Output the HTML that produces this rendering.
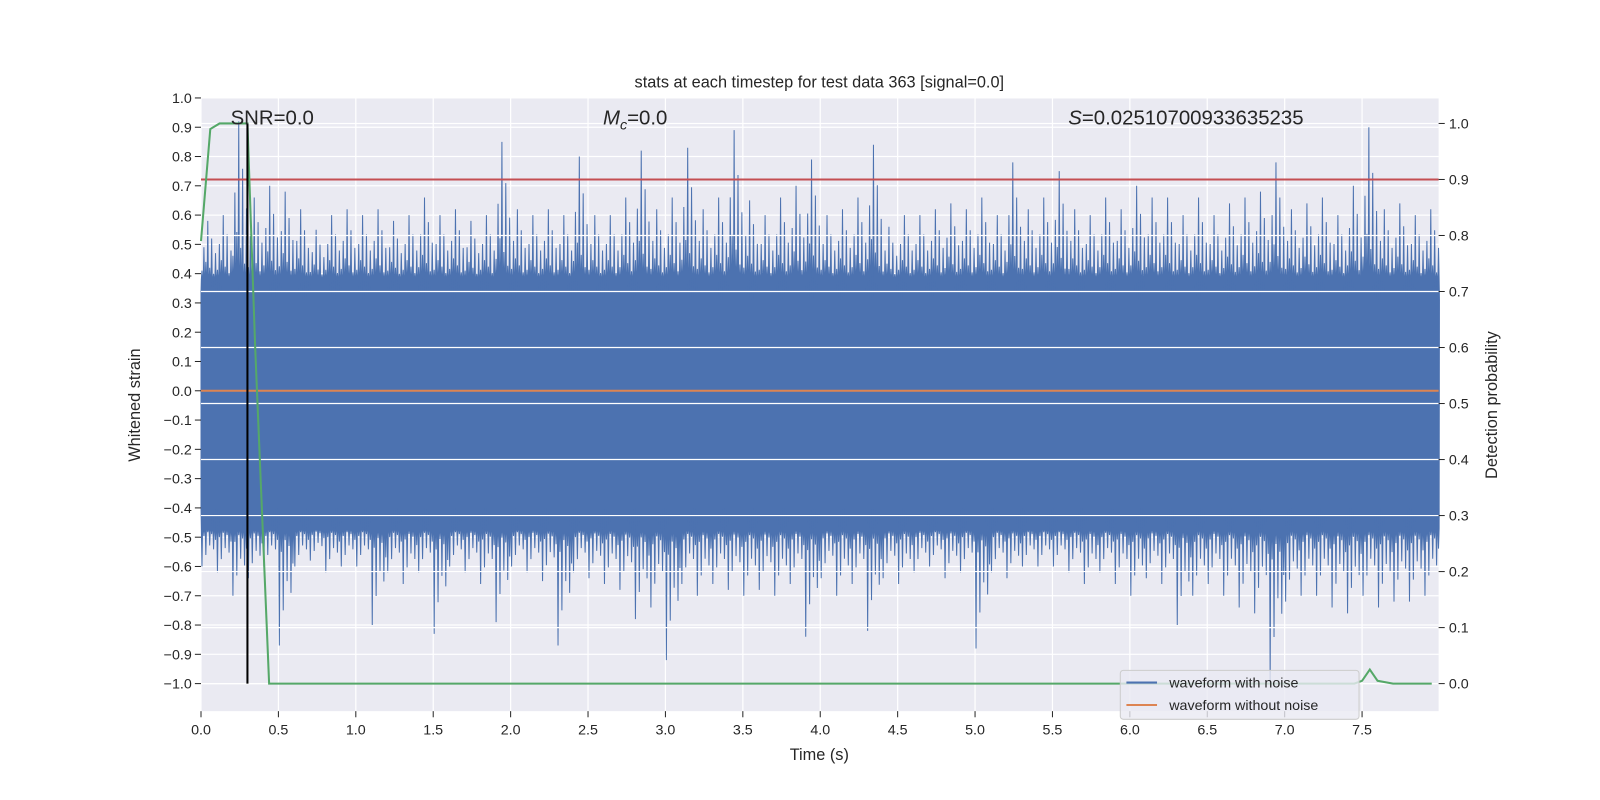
<!DOCTYPE html>
<html><head><meta charset="utf-8"><style>
html,body{margin:0;padding:0;background:#fff;overflow:hidden;width:1600px;height:800px;}
svg{display:block;}
svg text{font-family:"Liberation Sans","DejaVu Sans",sans-serif;fill:#262626;}
</style></head><body>
<svg id="chart" width="1600" height="800" xmlns="http://www.w3.org/2000/svg">
<g transform="scale(1.0203)">
<rect x="197" y="96" width="1213" height="601" fill="#eaeaf2"/>
<g id="lgrid"></g><g id="wave"></g><g id="rgrid"></g><g id="lines"></g><g id="axes"></g>
<text x="803" y="86" font-size="16" text-anchor="middle">stats at each timestep for test data 363 [signal=0.0]</text>
<text x="226" y="122" font-size="20">SNR=0.0</text>
<text x="591" y="122" font-size="20"><tspan font-style="italic">M</tspan><tspan font-size="14" dy="5" font-style="italic">c</tspan><tspan dy="-5">=0.0</tspan></text>
<text x="1047" y="122" font-size="20"><tspan font-style="italic">S</tspan>=0.02510700933635235</text>
<text x="803" y="745" font-size="16" text-anchor="middle">Time (s)</text>
<text transform="translate(137,397) rotate(-90)" font-size="16" text-anchor="middle">Whitened strain</text>
<text transform="translate(1467,397) rotate(-90)" font-size="16" text-anchor="middle">Detection probability</text>
<g>
<rect x="1098" y="657" width="234" height="48" rx="3" fill="#eaeaf2" fill-opacity="0.8" stroke="#ccc"/>
<line x1="1104" y1="669" x2="1134" y2="669" stroke="#4c72b0" stroke-width="2"/>
<text x="1146" y="674" font-size="14">waveform with noise</text>
<line x1="1104" y1="691" x2="1134" y2="691" stroke="#dd8452" stroke-width="2"/>
<text x="1146" y="696" font-size="14">waveform without noise</text>
</g>
</g>
</svg>
<script>
// 0.1 s bins: max and min of noisy strain
const binTops=[0.58,0.6,0.92,0.66,0.7,0.68,0.62,0.55,0.6,0.62,0.6,0.62,0.58,0.6,0.66,0.6,0.62,0.58,0.6,0.85,0.62,0.6,0.62,0.6,0.8,0.6,0.6,0.66,0.82,0.62,0.66,0.83,0.62,0.66,0.89,0.65,0.6,0.66,0.7,0.79,0.6,0.62,0.66,0.84,0.56,0.6,0.6,0.62,0.64,0.62,0.66,0.6,0.78,0.62,0.66,0.75,0.62,0.6,0.66,0.62,0.7,0.66,0.66,0.6,0.66,0.6,0.64,0.66,0.68,0.78,0.62,0.64,0.66,0.6,0.7,0.9,0.62,0.64,0.6,0.62];
const binBots=[-0.6,-0.62,-0.7,-0.64,-0.6,-0.87,-0.6,-0.58,-0.62,-0.6,-0.6,-0.8,-0.62,-0.66,-0.62,-0.83,-0.6,-0.62,-0.66,-0.79,-0.6,-0.62,-0.65,-0.87,-0.62,-0.64,-0.66,-0.68,-0.78,-0.74,-0.92,-0.66,-0.7,-0.66,-0.68,-0.7,-0.68,-0.7,-0.66,-0.84,-0.64,-0.7,-0.66,-0.82,-0.64,-0.66,-0.62,-0.6,-0.64,-0.62,-0.88,-0.62,-0.64,-0.6,-0.6,-0.6,-0.62,-0.66,-0.62,-0.66,-0.7,-0.64,-0.66,-0.8,-0.7,-0.66,-0.7,-0.74,-0.76,-1.0,-0.72,-0.7,-0.7,-0.74,-0.76,-0.7,-0.74,-0.72,-0.72,-0.7];
const baseTop=0.33, baseBot=-0.42;
const probT=[0,0.06,0.12,0.3,0.35,0.44,7.45,7.5,7.55,7.6,7.7,7.95];
const probV=[0.79,0.99,1.0,1.0,0.6,0.0,0.0,0.005,0.025,0.005,0.0,0.0];
const threshold=0.9, eventT=0.3;
const leftTicks=[-1.0,-0.9,-0.8,-0.7,-0.6,-0.5,-0.4,-0.3,-0.2,-0.1,0.0,0.1,0.2,0.3,0.4,0.5,0.6,0.7,0.8,0.9,1.0];
const rightTicks=[0.0,0.1,0.2,0.3,0.4,0.5,0.6,0.7,0.8,0.9,1.0];
const xTicks=[0,0.5,1,1.5,2,2.5,3,3.5,4,4.5,5,5.5,6,6.5,7,7.5];
const X=t=>197+t*151.73, YL=v=>383-v*287, YR=v=>670-v*549;
const NS='http://www.w3.org/2000/svg';
function mk(p,tag,a){const e=document.createElementNS(NS,tag);for(const k in a)e.setAttribute(k,a[k]);p.appendChild(e);return e;}
const lg=document.getElementById('lgrid'),rg=document.getElementById('rgrid'),ax=document.getElementById('axes'),wv=document.getElementById('wave'),ln=document.getElementById('lines');
leftTicks.forEach(v=>{const y=YL(v);
 const g=mk(lg,'line',{x1:197,x2:1410,y1:y,y2:y,stroke:'#fff','stroke-width':1.2});
 
 
 const t=mk(ax,'text',{x:188,y:y+5,'font-size':14,'text-anchor':'end'});t.textContent=(v<0?'\u2212':'')+Math.abs(v).toFixed(1);
 
 
 mk(ax,'line',{x1:191,x2:197,y1:y,y2:y,stroke:'#262626'});});
xTicks.forEach(v=>{const x=X(v);
 const g=mk(lg,'line',{x1:x,x2:x,y1:96,y2:697,stroke:'#fff','stroke-width':1.2});
 
 
 const t=mk(ax,'text',{x:x,y:720,'font-size':14,'text-anchor':'middle'});t.textContent=v.toFixed(1);
 
 
 mk(ax,'line',{x1:x,x2:x,y1:697,y2:703,stroke:'#262626'});});
rightTicks.forEach(v=>{const y=YR(v);
 const g=mk(rg,'line',{x1:197,x2:1410,y1:y,y2:y,stroke:'#fff','stroke-width':1.2});
 
 
 const t=mk(ax,'text',{x:1420,y:y+5,'font-size':14});t.textContent=v.toFixed(1);
 
 
 mk(ax,'line',{x1:1410,x2:1416,y1:y,y2:y,stroke:'#262626'});});
// noise band: several narrow spikes per bin scaled from the bin extreme
const fT=[0.15,0.55,0.3,1,0.2,0.7,0.1,0.45];
let d='M'+X(0)+','+YL(baseTop);
binTops.forEach((v,i)=>{const t0=i*0.1;fT.forEach((f,k)=>{const tc=t0+(k+0.5)*0.0125;
 d+=` L${X(tc-0.004)},${YL(baseTop+0.05)} L${X(tc)},${YL(baseTop+f*(v-baseTop)+0.05*(1-f))} L${X(tc+0.004)},${YL(baseTop+0.05)} L${X(tc+0.006)},${YL(baseTop-0.02)}`;});});
for(let i=binBots.length-1;i>=0;i--){const v=binBots[i],t0=i*0.1;for(let k=fT.length-1;k>=0;k--){const f=fT[(k+3)%fT.length],tc=t0+(k+0.5)*0.0125;
 d+=` L${X(tc+0.004)},${YL(baseBot-0.05)} L${X(tc)},${YL(baseBot+f*(v-baseBot)-0.05*(1-f))} L${X(tc-0.004)},${YL(baseBot-0.05)} L${X(tc-0.006)},${YL(baseBot+0.02)}`;}}
const wp=mk(wv,'path',{d:d+'Z',fill:'#4c72b0',stroke:'#4c72b0','stroke-width':1});


const o=mk(ln,'line',{x1:197,x2:1410,y1:YL(0),y2:YL(0),stroke:'#dd8452','stroke-width':2});


const r=mk(ln,'line',{x1:197,x2:1410,y1:YR(threshold),y2:YR(threshold),stroke:'#c44e52','stroke-width':2});


const g=mk(ln,'polyline',{points:probT.map((t,i)=>X(t)+','+YR(probV[i])).join(' '),fill:'none',stroke:'#55a868','stroke-width':2});


const b=mk(ln,'line',{x1:X(eventT),x2:X(eventT),y1:YR(1),y2:YR(0),stroke:'#000','stroke-width':2});


</script>
</body></html>
